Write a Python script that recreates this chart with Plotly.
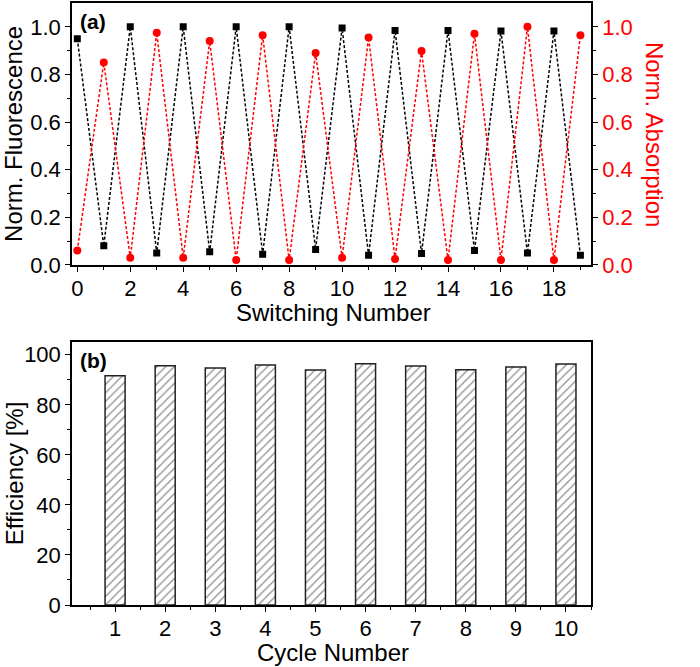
import plotly.graph_objects as go

switch_num = list(range(20))
fluorescence = [0.95, 0.08, 1.0, 0.05, 1.0, 0.055, 1.0, 0.045, 1.0, 0.065,
                0.995, 0.04, 0.985, 0.048, 0.985, 0.06, 0.982, 0.05, 0.982, 0.04]
absorption = [0.06, 0.85, 0.03, 0.975, 0.03, 0.94, 0.02, 0.965, 0.02, 0.89,
              0.03, 0.955, 0.025, 0.898, 0.02, 0.971, 0.02, 1.0, 0.02, 0.965]
cycles = list(range(1, 11))
efficiency = [91.6, 95.6, 94.7, 95.9, 93.9, 96.4, 95.5, 94.0, 95.1, 96.3]

FONT = "Liberation Sans, Arial, sans-serif"
TFS = 22   # tick font
LFS = 24   # title font

fig = go.Figure()
fig.add_trace(go.Scatter(x=switch_num, y=fluorescence, mode="lines+markers",
                         line=dict(color="black", width=1.5, dash="3px,2px"),
                         marker=dict(symbol="square", size=7, color="black"),
                         xaxis="x", yaxis="y", showlegend=False))
fig.add_trace(go.Scatter(x=switch_num, y=absorption, mode="lines+markers",
                         line=dict(color="red", width=1.5, dash="3px,2px"),
                         marker=dict(symbol="circle", size=8, color="red"),
                         xaxis="x", yaxis="y2", showlegend=False))
fig.add_trace(go.Bar(x=cycles, y=efficiency, width=0.4,
                     marker=dict(color="white", line=dict(color="#222", width=1.5),
                                 pattern=dict(shape="/", fgcolor="#222", bgcolor="white",
                                              size=6, solidity=0.22)),
                     xaxis="x2", yaxis="y3", showlegend=False))

axis_common = dict(showgrid=False, zeroline=False, showline=True, linecolor="black",
                   linewidth=1.5, ticks="outside", ticklen=5, tickwidth=1.2,
                   tickcolor="black", tickfont=dict(family=FONT, size=TFS, color="black"))

yd_top = [0.565, 1.0]
yd_bot = [0.0, 0.4377]

fig.update_layout(
    width=700, height=667,
    margin=dict(l=72, r=109, t=3, b=62, autoexpand=False),
    paper_bgcolor="white", plot_bgcolor="white",
    font=dict(family=FONT, size=LFS, color="black"),
    xaxis=dict(**axis_common, domain=[0, 1], anchor="y", range=[-0.2, 19.4],
               tickvals=list(range(0, 20, 2)), mirror=True, ticklabelstandoff=-2,
               minor=dict(tickvals=list(range(1, 20, 2)), ticks="outside", ticklen=3,
                          tickcolor="black")),
    yaxis=dict(**axis_common, domain=yd_top, anchor="x", range=[0, 1.1],
               tickvals=[0, 0.2, 0.4, 0.6, 0.8, 1.0], tickformat=".1f",
               minor=dict(tickvals=[0.1, 0.3, 0.5, 0.7, 0.9], ticks="outside", ticklen=3,
                          tickcolor="black")),
    yaxis2=dict(showgrid=False, zeroline=False, showline=True, linecolor="black",
                linewidth=1.5, ticks="outside", ticklen=5, tickwidth=1.2,
                tickcolor="black", tickfont=dict(family=FONT, size=TFS, color="red"),
                overlaying="y", side="right", anchor="x", range=[0, 1.1],
                tickvals=[0, 0.2, 0.4, 0.6, 0.8, 1.0], tickformat=".1f",
                minor=dict(tickvals=[0.1, 0.3, 0.5, 0.7, 0.9], ticks="outside", ticklen=3,
                           tickcolor="black")),
    xaxis2=dict(**axis_common, domain=[0, 1], anchor="y3", range=[0.14, 10.5],
                tickvals=cycles, mirror=True, ticklabelstandoff=-2,
                minor=dict(tickvals=[0.5 + i for i in range(11)], ticks="outside",
                           ticklen=3, tickcolor="black")),
    yaxis3=dict(**axis_common, domain=yd_bot, anchor="x2", range=[0, 105.3],
                tickvals=[0, 20, 40, 60, 80, 100], mirror=True,
                minor=dict(tickvals=[10, 30, 50, 70, 90], ticks="outside", ticklen=3,
                           tickcolor="black")),
)

W = 519.0
def px_to_paper_x(px):
    return (px - 72) / W

def px_to_paper_y(py):
    return (605.3 - py) / 602.3

ann = [
    dict(text="Norm. Fluorescence", x=px_to_paper_x(14), y=px_to_paper_y(134),
         textangle=-90, font=dict(size=LFS, color="black")),
    dict(text="Norm. Absorption", x=px_to_paper_x(654), y=px_to_paper_y(134),
         textangle=90, font=dict(size=LFS, color="red")),
    dict(text="Switching Number", x=px_to_paper_x(333), y=px_to_paper_y(313),
         font=dict(size=LFS, color="black")),
    dict(text="Efficiency [%]", x=px_to_paper_x(14), y=(yd_bot[0] + yd_bot[1]) / 2,
         textangle=-90, font=dict(size=LFS, color="black")),
    dict(text="Cycle Number", x=px_to_paper_x(333), y=px_to_paper_y(653),
         font=dict(size=LFS, color="black")),
    dict(text="<b>(a)</b>", x=px_to_paper_x(92.5), y=px_to_paper_y(22),
         font=dict(size=21, color="black")),
    dict(text="<b>(b)</b>", x=px_to_paper_x(93), y=px_to_paper_y(361),
         font=dict(size=21, color="black")),
]
for a in ann:
    fig.add_annotation(xref="paper", yref="paper", showarrow=False,
                       xanchor="center", yanchor="middle", **a)

fig.write_html("out.html", config={"displayModeBar": False},
               post_script="document.body.style.margin='0';document.body.style.padding='0';")
